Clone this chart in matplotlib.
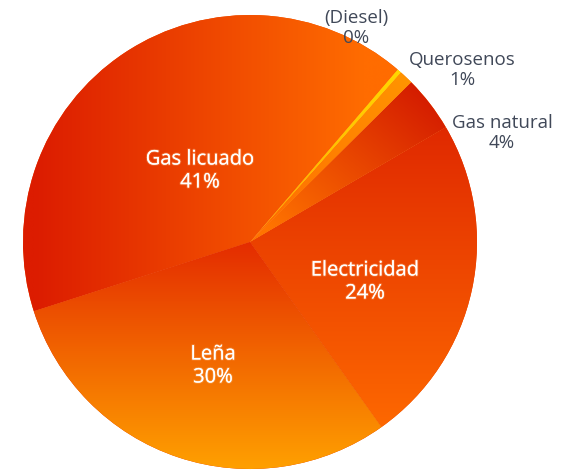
import matplotlib
matplotlib.use('Agg')
import matplotlib.pyplot as plt
import matplotlib.patheffects as pe
import numpy as np
from matplotlib.colors import to_rgb

# household energy sources, share of total (%)
categories = ['Electricidad', 'Gas natural', 'Querosenos', '(Diesel)', 'Gas licuado', 'Leña']
shares = [23.6, 4.0, 1.0, 0.3, 41.2, 29.9]

# gradient per slice: direction (deg), range along direction, start colour, end colour
grad_dir = [270, 230, 40, 40, 0, 270]
grad_rng = [(-0.7, 0.9), (-1.0, -0.1), (0.0, 1.0), (0.0, 1.0), (-0.95, 0.5), (0.0, 1.0)]
grad_c0 = ['#dc2000', '#d41c00', '#ff6a00', '#ffa800', '#dc1c00', '#e42c00']
grad_c1 = ['#ff6c00', '#ff7400', '#ff9400', '#ffd800', '#ff6c00', '#ffa000']

# label placement in pixel coordinates (y from top) and text colour
label_px = [(365, 283), (502, 133), (462, 70), (356, 28), (200, 172), (213, 367)]
label_inside = [True, False, False, False, True, True]

W, H = 565, 477
fig = plt.figure(figsize=(W / 100, H / 100), dpi=100)
ax = fig.add_axes([0, 0, 1, 1])

cx, cy, r = 250, H - 243, 227
wedges, _ = ax.pie(shares, center=(cx, cy), radius=r, startangle=305.4,
                   counterclock=True, frame=True,
                   wedgeprops=dict(linewidth=0))
ax.set_xlim(0, W)
ax.set_ylim(0, H)
ax.set_aspect('equal')
ax.axis('off')

# fill each wedge with a linear gradient clipped to its shape
n = 500
xs = np.linspace(cx - r, cx + r, n)
ys = np.linspace(cy - r, cy + r, n)
X, Y = np.meshgrid(xs, ys)
for w, a, (lo, hi), c0, c1 in zip(wedges, grad_dir, grad_rng, grad_c0, grad_c1):
    ux, uy = np.cos(np.radians(a)), np.sin(np.radians(a))
    t = ((X - cx) * ux + (Y - cy) * uy) / r
    s = np.clip((t - lo) / (hi - lo), 0, 1)[..., None]
    rgb = np.array(to_rgb(c0)) * (1 - s) + np.array(to_rgb(c1)) * s
    w.set_facecolor(tuple(rgb[n // 2, n // 2]))
    im = ax.imshow(rgb, extent=(cx - r, cx + r, cy - r, cy + r), origin='lower',
                   interpolation='bilinear', zorder=w.get_zorder() + 0.1)
    im.set_clip_path(w)

for name, v, (px, py), inside in zip(categories, shares, label_px, label_inside):
    txt = f'{name}\n{round(v)}%'
    if inside:
        ax.text(px, H - py, txt, ha='center', va='center', fontsize=14.5,
                family='Open Sans', color='white', linespacing=1.2, zorder=5,
                path_effects=[pe.withStroke(linewidth=1.5, foreground=(1, 0.8, 0.6, 0.25))])
    else:
        ax.text(px, H - py, txt, ha='center', va='center', fontsize=13.5,
                family='Open Sans', color='#404858', linespacing=1.2, zorder=5)

fig.savefig('out.png', dpi=100)
